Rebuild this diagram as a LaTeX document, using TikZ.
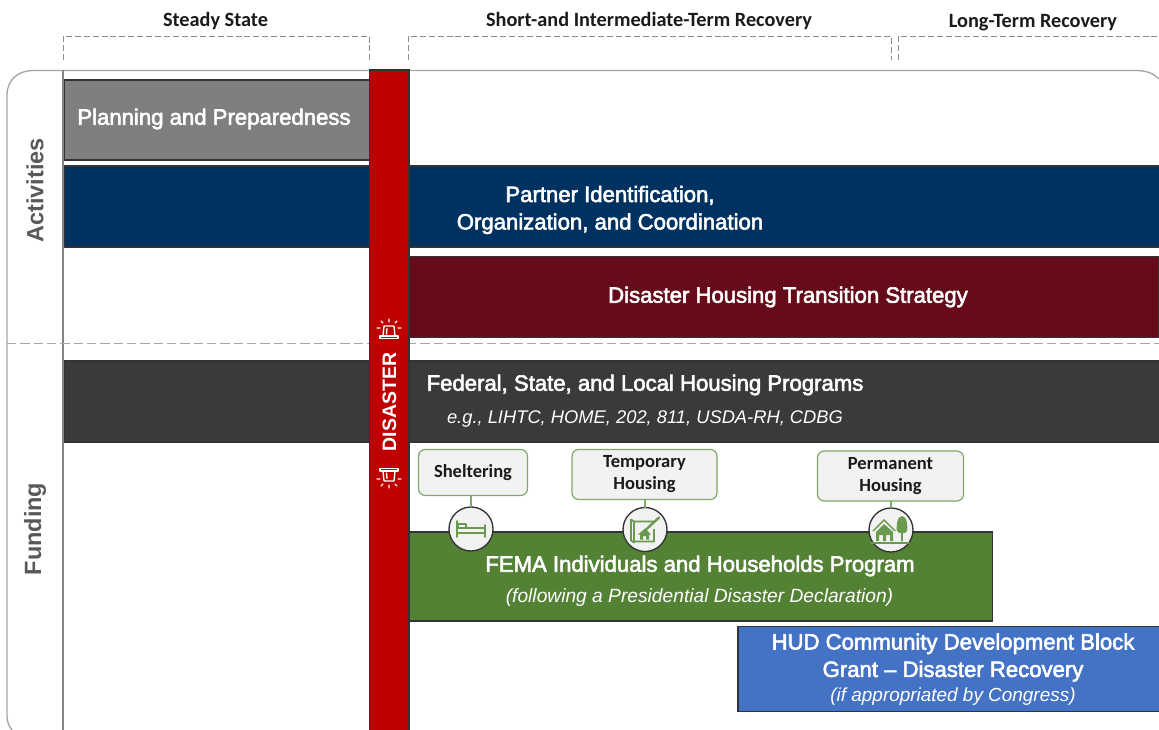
\documentclass[tikz,border=0pt]{standalone}
\usepackage{fontspec}
\setmainfont{Liberation Sans}
\newfontfamily\calib{Carlito}
\newfontfamily\semib[FakeBold=2.6]{Liberation Sans}
\usetikzlibrary{calc}
\definecolor{frameg}{HTML}{A6A6A6}
\definecolor{dashg}{HTML}{8C8C8C}
\definecolor{grayb}{HTML}{7F7F7F}
\definecolor{navyb}{HTML}{003261}
\definecolor{maroonb}{HTML}{660B19}
\definecolor{darkb}{HTML}{3B3A38}
\definecolor{redb}{HTML}{C00000}
\definecolor{greenb}{HTML}{548235}
\definecolor{blueb}{HTML}{4472C4}
\definecolor{callg}{HTML}{F2F2F2}
\definecolor{callb}{HTML}{7FA86A}
\definecolor{lab}{HTML}{1A1A1A}
\definecolor{icong}{HTML}{6A9A4E}
\tikzset{
  x=0.75pt,y=-0.75pt,
  band/.style={draw=black!80,line width=0.8pt,inner sep=0pt,outer sep=0pt},
  btext/.style={text=white,font=\semib\fontsize{16.6}{20.6}\selectfont,align=center,inner sep=0pt},
  itext/.style={text=white,align=center,inner sep=0pt},
  head/.style={font=\calib\bfseries\fontsize{15.2}{17}\selectfont,text=lab,inner sep=0pt},
  side/.style={font=\bfseries\fontsize{17.6}{20}\selectfont,text=black!65,rotate=90,inner sep=0pt},
  brack/.style={draw=dashg,line width=0.7pt,dash pattern=on 4.5pt off 2.2pt},
  callout/.style={draw=callb,fill=callg,line width=0.9pt,rounded corners=5pt,font=\calib\bfseries\fontsize{13.9}{16.5}\selectfont,text=lab,align=center,inner sep=0pt,outer sep=0pt},
  badge/.style={circle,draw=black!80,fill=callg,line width=1pt,minimum size=33pt,inner sep=0pt,outer sep=0pt},
  icon/.style={draw=icong,line width=1pt,line cap=round,line join=round},
  siren/.style={draw=white,line width=1pt,line cap=round,line join=round}
}
\begin{document}
\begin{tikzpicture}
\useasboundingbox (0,0) rectangle (1159,730);
\fill[white] (0,0) rectangle (1159,730);
% frame
\draw[frameg,line width=1pt] (12,730) .. controls (9,726) and (7,722) .. (7,716) -- (7,95) .. controls (7,80) and (18,70.5) .. (33,70.5) -- (1136,70.5) .. controls (1147,70.5) and (1154,74) .. (1159,79);
\draw[frameg!80!black,line width=1pt] (63,70) -- (63,730);
\draw[frameg,line width=1pt,dash pattern=on 7pt off 3pt] (7,343.5) -- (1159,343.5);
% bands
\node[band,fill=grayb,minimum width=305*0.75pt,minimum height=80*0.75pt,anchor=north west] (plan) at (64.5,80) {};
\node[band,fill=navyb,anchor=north west,minimum width=1096*0.75pt,minimum height=81*0.75pt] (part) at (64.5,166) {};
\node[band,fill=maroonb,anchor=north west,minimum width=751*0.75pt,minimum height=81*0.75pt] (trans) at (408,256.5) {};
\node[band,fill=darkb,anchor=north west,minimum width=1096*0.75pt,minimum height=81*0.75pt] (prog) at (64.5,361) {};
\node[band,fill=greenb,anchor=north west,minimum width=585*0.75pt,minimum height=89*0.75pt] (fema) at (407.5,532) {};
\node[band,fill=blueb,anchor=north west,minimum width=422*0.75pt,minimum height=85*0.75pt] (hud) at (738,626.5) {};
% disaster bar
\node[draw=black!80,line width=0.8pt,fill=redb,outer sep=0pt,anchor=north west,minimum width=39.5*0.75pt,minimum height=661*0.75pt,inner sep=0pt] (bar) at (369.5,70) {};
\node[rotate=90,text=white,font=\bfseries\fontsize{14.6}{17}\selectfont,inner sep=0pt] (dis) at (389.5,402) {DISASTER};
% sirens
\begin{scope}[shift={(389,329)}]
\draw[siren] (-9,9.5) -- (9,9.5) -- (9,7) -- (-9,7) -- cycle;
\draw[siren] (-6,7) -- (-5,-3) -- (5,-3) -- (6,7) (-2.5,5) -- (-2,-0.5);
\draw[siren] (0,-10) -- (0,-7) (-8,-8) -- (-6,-6) (8,-8) -- (6,-6) (-12,-1) -- (-9,-1) (12,-1) -- (9,-1);
\end{scope}
\begin{scope}[shift={(389,478)}]
\draw[siren] (-9,-9.5) -- (9,-9.5) -- (9,-7) -- (-9,-7) -- cycle;
\draw[siren] (-6,-7) -- (-5,3) -- (5,3) -- (6,-7) (-2.5,-5) -- (-2,0.5);
\draw[siren] (0,10) -- (0,7) (-8,8) -- (-6,6) (8,8) -- (6,6) (-12,1) -- (-9,1) (12,1) -- (9,1);
\end{scope}
% band texts
\node[btext] (t1) at (214,119) {Planning and Preparedness};
\node[btext] (t2) at (610,210) {Partner Identification,\\Organization, and Coordination};
\node[btext] (t3) at (788,297) {Disaster Housing Transition Strategy};
\node[btext] (t4) at (645,385) {Federal, State, and Local Housing Programs};
\node[itext,font=\fontsize{13.75}{16}\selectfont\itshape] (t5) at (645,419) {e.g., LIHTC, HOME, 202, 811, USDA-RH, CDBG};
\node[btext] (t6) at (700,566) {FEMA Individuals and Households Program};
\node[itext,font=\fontsize{14.4}{16}\selectfont\itshape] (t7) at (699.5,597.5) {(following a Presidential Disaster Declaration)};
\node[btext] (t8) at (953,657.5) {HUD Community Development Block\\Grant – Disaster Recovery};
\node[itext,font=\fontsize{14.2}{16}\selectfont\itshape] (t9) at (953,696.5) {(if appropriated by Congress)};
% side labels
\node[side] (act) at (35,190.5) {Activities};
\node[side] (fund) at (35,529) {Funding};
% heads
\node[head] (h1) at (215.5,21) {Steady State};
\node[head] (h2) at (649,21) {Short-and Intermediate-Term Recovery};
\node[head] (h3) at (1033,22.5) {Long-Term Recovery};
\draw[brack] (63,60) -- (63,36) -- (369,36) -- (369,60);
\draw[brack] (408,60) -- (408,36) -- (891,36) -- (891,60);
\draw[brack] (898.5,60) -- (898.5,36) -- (1159,36);
% callouts
\node[callout,minimum width=109*0.75pt,minimum height=46*0.75pt] (c1) at (473,472.5) {\raisebox{-1pt}{Sheltering}};
\node[callout,minimum width=145*0.75pt,minimum height=50*0.75pt] (c2) at (644.5,474.5) {\raisebox{-0.8pt}{Temporary}\\\raisebox{-0.8pt}{Housing}};
\node[callout,minimum width=146*0.75pt,minimum height=50*0.75pt] (c3) at (890.5,476) {\raisebox{-0.8pt}{Permanent}\\\raisebox{-0.8pt}{Housing}};
\node[badge,minimum size=44*0.75pt] (b1) at (471,529) {};
\node[badge,minimum size=44*0.75pt] (b2) at (645,529.5) {};
\node[badge,minimum size=44*0.75pt] (b3) at (891,530) {};
\draw[callb,line width=0.9pt] (b1.north) -- (b1.north |- c1.south);
\draw[callb,line width=0.9pt] (b2.north) -- (b2.north |- c2.south);
\draw[callb,line width=0.9pt] (b3.north) -- (b3.north |- c3.south);
% bed
\begin{scope}[shift={(b1.center)}]
\draw[icon,line width=1.2pt] (-14,-8) -- (-14,8) (14,-4) -- (14,8) (-14,4) -- (14,4) (-14,-1) -- (14,-1);
\draw[icon] (-13,-1) -- (-13,-5) -- (-5,-5) -- (-5,-1);
\end{scope}
% plan & house
\begin{scope}[shift={(b2.center)}]
\draw[icon,line width=1.3pt] (-11,-8) -- (-14,-10) -- (-14,11) -- (-11,13) -- (-11,-8) (-11,-8) -- (9,-8) (9,0) -- (9,12) -- (-11,12);
\draw[icon,line width=1.8pt] (-1,2) -- (14,-12);
\fill[icong] (-7,5) -- (0,-1) -- (6,5) -- (4,5) -- (4,10) -- (1,10) -- (1,6.5) -- (-2,6.5) -- (-2,10) -- (-5,10) -- (-5,5) -- cycle;
\end{scope}
% house & tree
\begin{scope}[shift={(b3.center)}]
\fill[icong] (-19,1) -- (-7,-11) -- (5,1) -- (3,1) -- (-7,-9) -- (-17,1) -- cycle;
\fill[icong] (-15,2) -- (-7,-6) -- (2,2) -- (2,11) -- (-1,11) -- (-1,5) -- (-5,5) -- (-5,11) -- (-8,11) -- (-8,5) -- (-12,5) -- (-12,11) -- (-15,11) -- cycle;
\fill[icong] (11,-14) .. controls (16,-14) and (17,-3) .. (16,1) .. controls (15,4) and (7,4) .. (6,1) .. controls (5,-3) and (6,-14) .. (11,-14) -- cycle;
\draw[icon] (11,3) -- (11,11);
\draw[icon,line width=1.3pt] (-20,13) -- (18,13);
\end{scope}
\end{tikzpicture}
\end{document}
